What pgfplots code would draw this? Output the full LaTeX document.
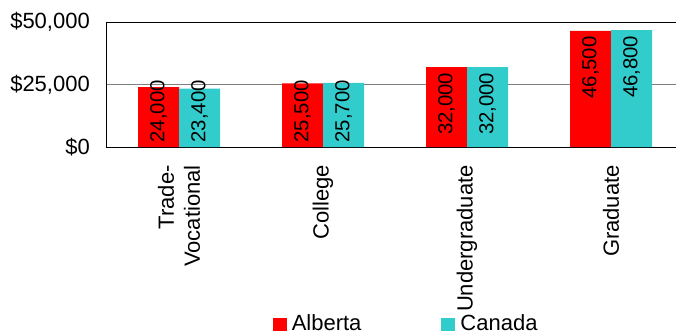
\documentclass[border=0pt]{standalone}
\usepackage{pgfplots}
\pgfplotsset{compat=1.18}
\usepackage{pgfplotstable}
\usepackage{fontspec}
\setmainfont{Liberation Sans}
\definecolor{ab}{HTML}{FF0000}
\definecolor{ca}{HTML}{33CCCC}
\pgfplotstableread{
x y lab h
0 24000 24,000 60
1 25500 25,500 63.75
2 32000 32,000 80
3 46500 46,500 116.25
}\alberta
\pgfplotstableread{
x y lab h
0 23400 23,400 58.5
1 25700 25,700 64.25
2 32000 32,000 80
3 46800 46,800 117
}\canada
\begin{document}
\fontsize{22}{26}\selectfont
\begin{tikzpicture}
\begin{axis}[name=ax,
  scale only axis, width=569pt, height=125pt,
  xmin=-0.5, xmax=3.451, ymin=0, ymax=50000,
  ybar=0pt, bar width=41pt,
  axis line style={black, line width=1pt},
  scaled y ticks=false,
  ytick={0,25000,50000}, yticklabels={{\$0},{\$25,000},{\$50,000}},
  ymajorgrids, grid style={gray, line width=1pt},
  major tick length=0pt,
  yticklabel style={inner sep=0pt, anchor=east, xshift=-17pt},
  xtick={0,1,2,3},
  xticklabels={{Trade-\\Vocational},College,Undergraduate,Graduate},
  xticklabel style={yshift=-18pt, rotate=90, anchor=east, align=right, inner sep=0pt},
  clip=false,
  legend columns=2,
  legend style={at={(0.524,0)}, anchor=north, yshift=-167pt, draw=none, fill=none, inner sep=0pt,
    /tikz/every odd column/.append style={column sep=5pt},
    /tikz/every even column/.append style={column sep=80pt},
    nodes={inner sep=0pt}},
  legend image code/.code={\fill[#1] (0pt,-7pt) rectangle (14pt,6pt);},
  lbl/.style={nodes near coords,
    point meta=explicit symbolic,
    visualization depends on={\thisrow{h} \as \rawh},
    every node near coord/.append style={yshift={max(-5.5,67-\rawh)}, rotate=90, anchor=east, inner sep=0pt, black,
     font=\fontsize{20.3}{24}\selectfont}},
]
\addplot[fill=ab, draw=none, lbl] table[x=x, y=y, meta=lab] {\alberta};
\addplot[fill=ca, draw=none, lbl] table[x=x, y=y, meta=lab] {\canada};
\legend{Alberta,Canada}
\end{axis}
\pgfresetboundingbox
\path[use as bounding box] ([xshift=-107pt, yshift=22pt]ax.north west) rectangle ([yshift=-188pt]ax.south east);
\end{tikzpicture}
\end{document}
